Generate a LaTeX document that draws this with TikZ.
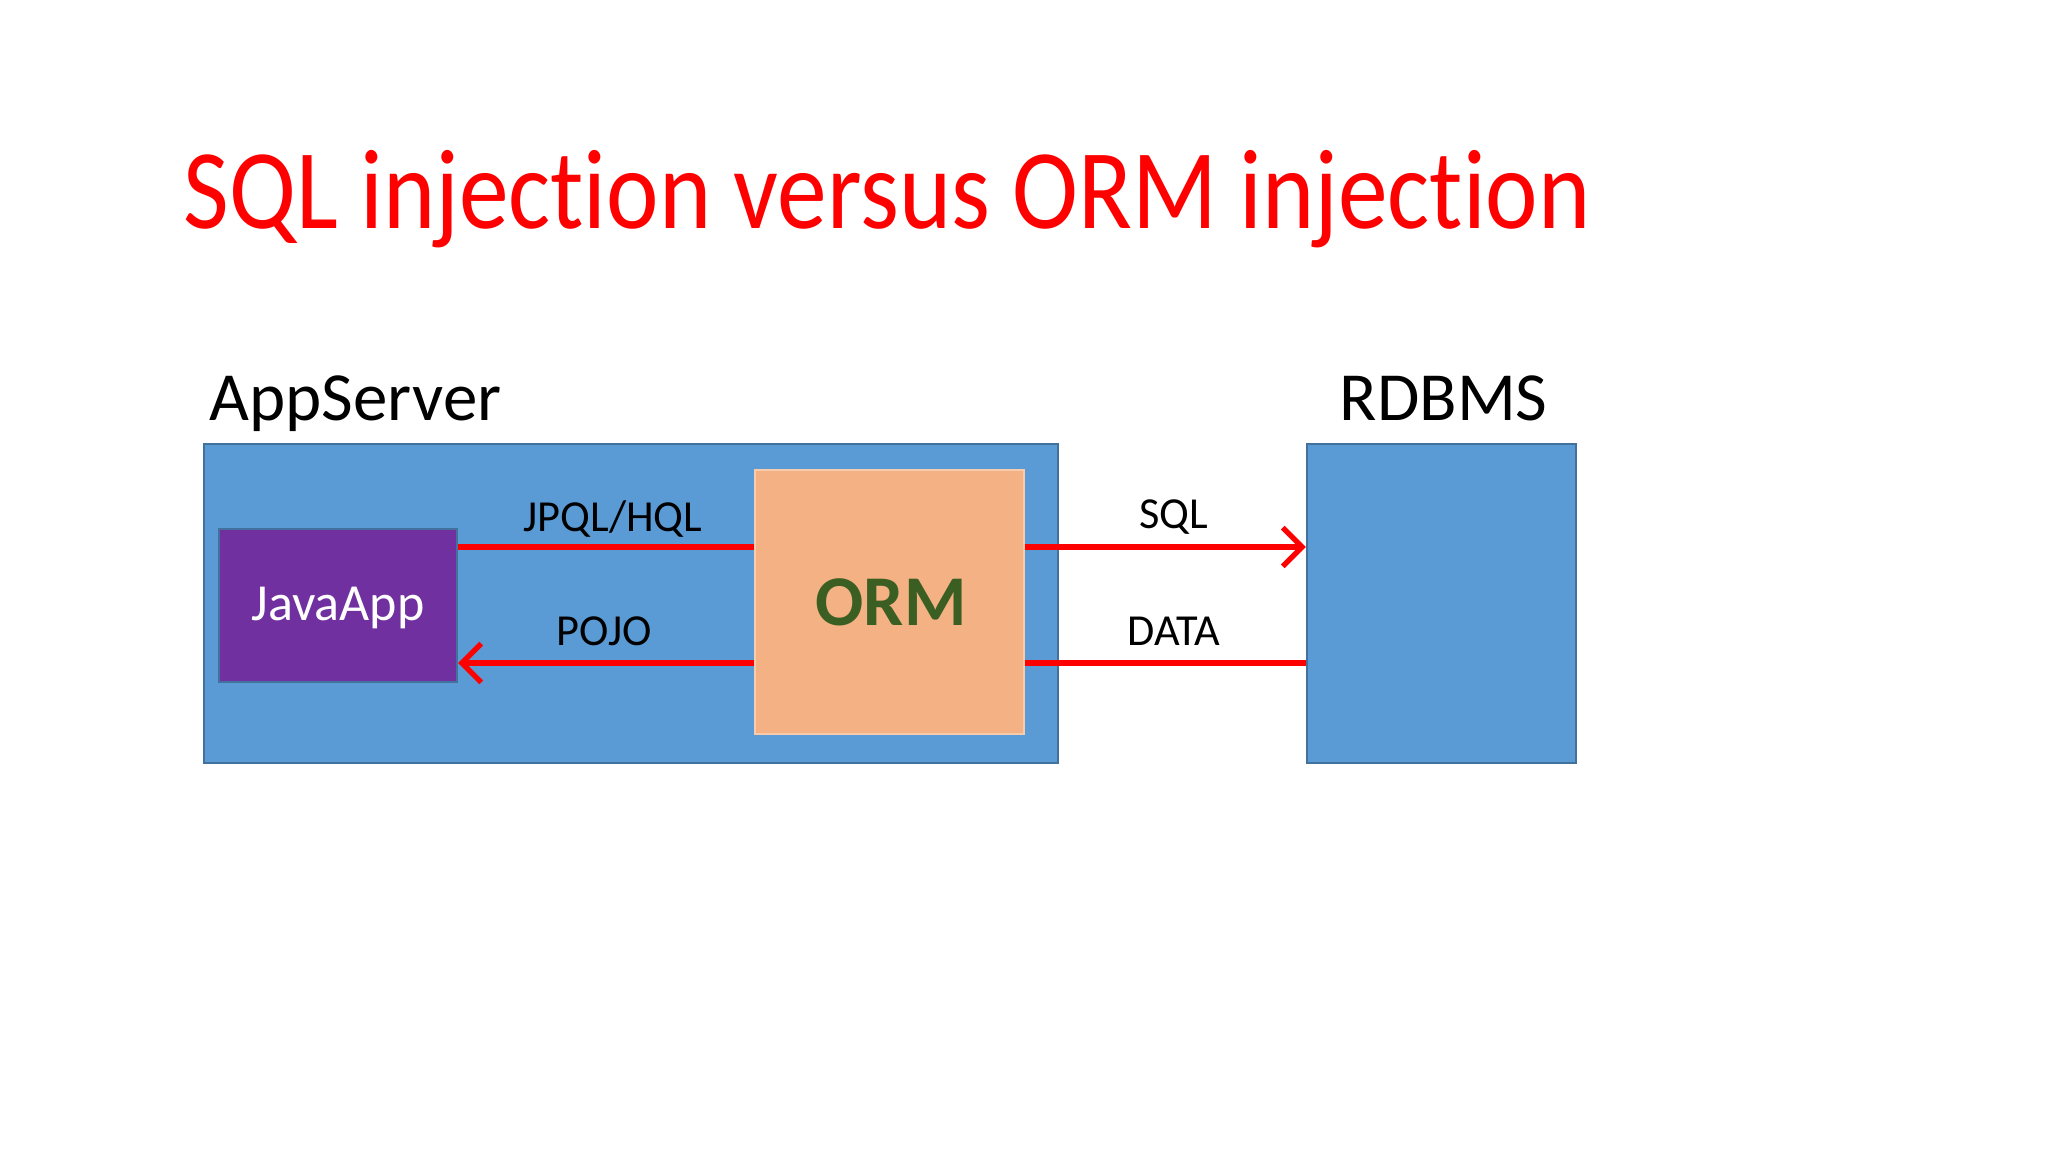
\documentclass[tikz,border=0pt]{standalone}
\usepackage{fontspec}
\setmainfont{Carlito}[RawFeature=-liga]
\usetikzlibrary{arrows.meta}
\definecolor{boxblue}{HTML}{5B9BD5}
\definecolor{boxline}{HTML}{41719C}
\definecolor{apppurple}{HTML}{7030A0}
\definecolor{ormfill}{HTML}{F4B183}
\definecolor{ormline}{HTML}{F8CBAD}
\definecolor{ormtext}{HTML}{3B5E22}
\definecolor{arrowred}{HTML}{FF0000}
\tikzset{
  bluebox/.style={draw=boxline, line width=0.6pt, fill=boxblue, inner sep=0pt},
  appbox/.style={draw=boxline, line width=0.6pt, fill=apppurple, inner sep=0pt},
  ormbox/.style={draw=ormline, line width=0.8pt, fill=ormfill, inner sep=0pt},
  flow/.style={draw=arrowred, line width=1.5pt},
  flowarrow/.style={flow, -{Straight Barb[length=5.5pt, width=11pt, line width=1.5pt]}},
  lbl/.style={anchor=base, inner sep=0pt, font=\fontsize{12.6}{15}\selectfont},
  heading/.style={anchor=base west, inner sep=0pt, font=\fontsize{19.6}{23}\selectfont}
}
\begin{document}
\begin{tikzpicture}[x=0.01cm, y=-0.01cm]
\useasboundingbox (0,0) rectangle (2048,1152);
\node[anchor=base west, inner sep=0pt, text=arrowred, font=\fontsize{32.3}{36}\selectfont] (title) at (183,229) {\scalebox{0.875}[1]{SQL injection versus ORM injection}};
\node[heading] (apphead) at (209,421) {AppServer};
\node[heading] (dbhead) at (1339,421) {RDBMS};
\node[bluebox, minimum width=8.54cm, minimum height=3.19cm] (appserver) at (631,603.5) {};
\node[bluebox, minimum width=2.69cm, minimum height=3.19cm] (rdbms) at (1441.5,603.5) {};
\node[appbox, minimum width=2.38cm, minimum height=1.53cm] (javaapp) at (338,605.5) {};
\node[anchor=base, inner sep=0pt, text=white, font=\fontsize{14.8}{18}\selectfont] (javatext) at (338,620) {JavaApp};
\node[ormbox, minimum width=2.69cm, minimum height=2.64cm] (orm) at (889.5,602) {};
\node[anchor=base, inner sep=0pt, text=ormtext, font=\fontsize{20.3}{24}\selectfont\bfseries] (ormlabel) at (891,626) {ORM};
\coordinate (jtop) at (javaapp.east |- 0,547);
\coordinate (jbot) at (javaapp.east |- 0,663);
\coordinate (otopl) at (orm.west |- 0,547);
\coordinate (obotl) at (orm.west |- 0,663);
\coordinate (otopr) at (orm.east |- 0,547);
\coordinate (obotr) at (orm.east |- 0,663);
\coordinate (rtop) at (rdbms.west |- 0,547);
\coordinate (rbot) at (rdbms.west |- 0,663);
\draw[flow] (jtop) -- (otopl);
\draw[flowarrow] (obotl) -- (jbot);
\draw[flowarrow] (otopr) -- (rtop);
\draw[flow] (rbot) -- (obotr);
\node[lbl] (jpql) at (613,532) {JPQL/HQL};
\node[lbl] (pojo) at (604,646) {POJO};
\node[lbl] (sql) at (1174,529) {SQL};
\node[lbl] (data) at (1174,646) {DATA};
\end{tikzpicture}
\end{document}
